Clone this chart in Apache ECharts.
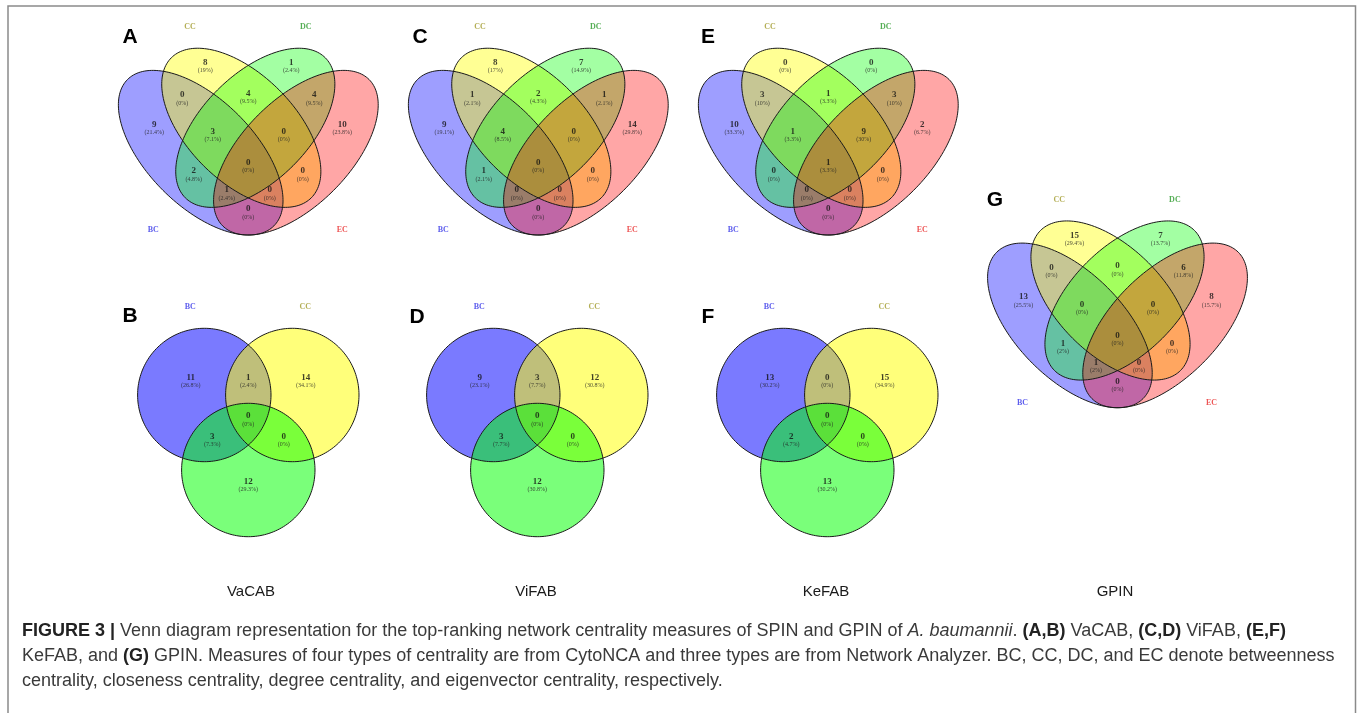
<!DOCTYPE html>
<html><head><meta charset="utf-8">
<script src="https://cdn.jsdelivr.net/npm/echarts@6/dist/echarts.min.js"></script>
<style>html,body{margin:0;padding:0;background:#fff}#c{width:1362px;height:713px}</style>
</head><body><div id="c"></div>
<script>
// ================= DATA =================
const sets4 = ['BC', 'CC', 'DC', 'EC'];
const sets3 = ['BC', 'CC', 'DC'];
// region order (4 sets)
const regions4 = ['BC', 'CC', 'DC', 'EC', 'BC∩CC', 'CC∩DC', 'DC∩EC', 'BC∩CC∩DC', 'CC∩DC∩EC',
  'BC∩CC∩DC∩EC', 'BC∩DC', 'CC∩EC', 'BC∩DC∩EC', 'BC∩CC∩EC', 'BC∩EC'];
// region order (3 sets)
const regions3 = ['BC', 'BC∩CC', 'CC', 'BC∩CC∩DC', 'BC∩DC', 'CC∩DC', 'DC'];

// (A) VaCAB - 4 sets
const countsA = [9, 8, 1, 10, 0, 4, 4, 3, 0, 0, 2, 0, 1, 0, 0];
const pctA = [21.4, 19, 2.4, 23.8, 0, 9.5, 9.5, 7.1, 0, 0, 4.8, 0, 2.4, 0, 0];
// (C) ViFAB - 4 sets
const countsC = [9, 8, 7, 14, 1, 2, 1, 4, 0, 0, 1, 0, 0, 0, 0];
const pctC = [19.1, 17, 14.9, 29.8, 2.1, 4.3, 2.1, 8.5, 0, 0, 2.1, 0, 0, 0, 0];
// (E) KeFAB - 4 sets
const countsE = [10, 0, 0, 2, 3, 1, 3, 1, 9, 1, 0, 0, 0, 0, 0];
const pctE = [33.3, 0, 0, 6.7, 10, 3.3, 10, 3.3, 30, 3.3, 0, 0, 0, 0, 0];
// (G) GPIN - 4 sets
const countsG = [13, 15, 7, 8, 0, 0, 6, 0, 0, 0, 1, 0, 1, 0, 0];
const pctG = [25.5, 29.4, 13.7, 15.7, 0, 0, 11.8, 0, 0, 0, 2, 0, 2, 0, 0];
// (B) VaCAB - 3 sets
const countsB = [11, 1, 14, 0, 3, 0, 12];
const pctB = [26.8, 2.4, 34.1, 0, 7.3, 0, 29.3];
// (D) ViFAB - 3 sets
const countsD = [9, 3, 12, 0, 3, 0, 12];
const pctD = [23.1, 7.7, 30.8, 0, 7.7, 0, 30.8];
// (F) KeFAB - 3 sets
const countsF = [13, 0, 15, 0, 2, 0, 13];
const pctF = [30.2, 0, 34.9, 0, 4.7, 0, 30.2];

const panelNames = ['VaCAB', 'ViFAB', 'KeFAB', 'GPIN'];

// ================= LAYOUT (geometry only, px-like units, y down) =================
// 4-set ellipses: [cx, cy, a, b, angleDeg]  (origin = panel centre x, top of diagram)
const ELL4 = [[-47.6, 104.4, 103.5, 53.3, 45], [-7, 79.5, 99, 53.5, 45], [7, 79.5, 99, 53.5, 135], [47.6, 104.4, 103.5, 53.3, 135]];
const LAB4 = [[-94, 76], [-43, 14.4], [43, 14.4], [94, 76], [-66, 46.7], [0, 45], [66, 46.7],
  [-35.5, 83.4], [35.5, 83.4], [0, 114.4], [-54.5, 122.7], [54.5, 122.7], [-21.5, 141.7], [21.5, 141.7], [0, 160.7]];
const CAT4 = [[-95, 181.7], [-58.3, -21], [57.4, -21], [94, 181.7]];
// 3-set circles (origin = centre of lower circle's x, upper circles' centre y)
const CIR3 = [[-44, 0, 66.7, 66.7, 0], [44, 0, 66.7, 66.7, 0], [0, 75, 66.7, 66.7, 0]];
const LAB3 = [[-57.6, -17.7], [0, -17.7], [57.5, -17.7], [0, 21], [-36, 41.7], [35.5, 41.7], [0, 86.7]];
const CAT3 = [[-58, -88.3], [57, -88.3], [0, 161.7]];

const FILL4 = ['rgba(0,0,255,0.38)', 'rgba(255,255,0,0.42)', 'rgba(0,255,0,0.36)', 'rgba(255,0,0,0.35)'];
const FILL3 = ['rgba(0,0,255,0.52)', 'rgba(255,255,0,0.52)', 'rgba(0,255,0,0.52)'];
const CATCOL = {BC: '#3434e8', CC: '#a09a2a', DC: '#2a9a2a', EC: '#e82a2a'};
const SERIF = '"Liberation Serif", "DejaVu Serif", serif';
const SANS = '"Liberation Sans", Arial, sans-serif';

const panels = [
  {type: 4, cx: 248.3, ytop: 48.3, counts: countsA, pct: pctA},
  {type: 4, cx: 538.3, ytop: 48.3, counts: countsC, pct: pctC},
  {type: 4, cx: 828.3, ytop: 48.3, counts: countsE, pct: pctE},
  {type: 4, cx: 1117.5, ytop: 221, counts: countsG, pct: pctG},
  {type: 3, cx: 248.3, cy: 395, counts: countsB, pct: pctB},
  {type: 3, cx: 537.3, cy: 395, counts: countsD, pct: pctD},
  {type: 3, cx: 827.3, cy: 395, counts: countsF, pct: pctF}
];

function ellipseRender(fills, stroke) {
  return function (params, api) {
    const cx = api.value(0), cy = api.value(1), a = api.value(2), b = api.value(3), r = api.value(4) * Math.PI / 180;
    const pts = [];
    const N = 180;
    for (let i = 0; i < N; i++) {
      const t = i / N * 2 * Math.PI;
      const ex = a * Math.cos(t), ey = b * Math.sin(t);
      pts.push(api.coord([cx + ex * Math.cos(r) - ey * Math.sin(r), cy + ex * Math.sin(r) + ey * Math.cos(r)]));
    }
    return {
      type: 'polygon', shape: {points: pts},
      style: stroke ? {fill: 'none', stroke: '#1a1a1a', lineWidth: 1} : {fill: fills[params.dataIndex], stroke: null}
    };
  };
}

const grid = [], xAxis = [], yAxis = [], series = [];
panels.forEach((p, i) => {
  if (p.type === 4) {
    grid.push({left: p.cx - 150, top: p.ytop - 40, width: 300, height: 300});
    xAxis.push({gridIndex: i, type: 'value', min: -150, max: 150, show: false});
    yAxis.push({gridIndex: i, type: 'value', min: -40, max: 260, inverse: true, show: false});
  } else {
    grid.push({left: p.cx - 150, top: p.cy - 150, width: 300, height: 300});
    xAxis.push({gridIndex: i, type: 'value', min: -150, max: 150, show: false});
    yAxis.push({gridIndex: i, type: 'value', min: -150, max: 150, inverse: true, show: false});
  }
  const shapes = p.type === 4 ? ELL4 : CIR3;
  const fills = p.type === 4 ? FILL4 : FILL3;
  const labPos = p.type === 4 ? LAB4 : LAB3;
  const catPos = p.type === 4 ? CAT4 : CAT3;
  const names = p.type === 4 ? sets4 : sets3;
  const regs = p.type === 4 ? regions4 : regions3;
  series.push({type: 'custom', xAxisIndex: i, yAxisIndex: i, silent: true, encode: {x: 0, y: 1},
    data: shapes, renderItem: ellipseRender(fills, false)});
  series.push({type: 'custom', xAxisIndex: i, yAxisIndex: i, silent: true, encode: {x: 0, y: 1},
    data: shapes, renderItem: ellipseRender(fills, true)});
  series.push({
    type: 'scatter', xAxisIndex: i, yAxisIndex: i, silent: true, symbolSize: 1,
    itemStyle: {color: 'rgba(0,0,0,0)'},
    data: labPos.map((q, k) => ({name: regs[k], value: [q[0], q[1], p.counts[k], p.pct[k]]})),
    label: {
      show: true, position: 'inside', offset: [0, 3.5],
      formatter: d => '{n|' + d.value[2] + '}\n{p|(' + d.value[3] + '%)}',
      rich: {
        n: {fontFamily: SERIF, fontWeight: 'bold', fontSize: 9, lineHeight: 9, color: '#111'},
        p: {fontFamily: SERIF, fontSize: 6, lineHeight: 7, color: '#222'}
      }
    }
  });
  series.push({
    type: 'scatter', xAxisIndex: i, yAxisIndex: i, silent: true, symbolSize: 1,
    itemStyle: {color: 'rgba(0,0,0,0)'},
    data: catPos.map((q, k) => ({name: names[k], value: [q[0], q[1]],
      label: {color: CATCOL[names[k]]}})),
    label: {show: true, position: 'inside', formatter: d => d.name,
      fontFamily: SERIF, fontWeight: 'bold', fontSize: 8}
  });
});

const letters = [['A', 130, 37], ['C', 420, 37], ['E', 708, 37], ['G', 995, 200], ['B', 130, 316], ['D', 417, 317], ['F', 708, 317]];
const nameX = [251, 536, 826, 1115];
const graphic = [
  {type: 'polyline', shape: {points: [[8, 713], [8, 6], [1355.5, 6], [1355.5, 713]]}, style: {stroke: '#8a8a8a', lineWidth: 1.5, fill: null}, silent: true}
];
letters.forEach(l => graphic.push({type: 'text', x: l[1], y: l[2], style: {text: l[0], fill: '#000', font: 'bold 21px ' + SANS, align: 'center', verticalAlign: 'middle'}}));
panelNames.forEach((n, i) => graphic.push({type: 'text', x: nameX[i], y: 592, style: {text: n, fill: '#1a1a1a', font: '15px ' + SANS, align: 'center', verticalAlign: 'middle'}}));

const capRich = {
  b: {fontWeight: 'bold', fontSize: 18, fontFamily: SANS, fill: '#222', color: '#222'},
  i: {fontStyle: 'italic', fontSize: 18, fontFamily: SANS, fill: '#3a3a3a', color: '#3a3a3a'}
};
const capLines = [
  '{b|FIGURE 3 |} Venn diagram representation for the top-ranking network centrality measures of SPIN and GPIN of {i|A. baumannii}. {b|(A,B)} VaCAB, {b|(C,D)} ViFAB, {b|(E,F)}',
  'KeFAB, and {b|(G)} GPIN. Measures of four types of centrality are from CytoNCA and three types are from Network Analyzer. BC, CC, DC, and EC denote betweenness',
  'centrality, closeness centrality, degree centrality, and eigenvector centrality, respectively.'
];
capLines.forEach((t, i) => graphic.push({type: 'text', x: 22, y: 631 + 25 * i,
  style: {text: t, rich: capRich, fill: '#3a3a3a', fontSize: 18, fontFamily: SANS, verticalAlign: 'middle', align: 'left'}}));

const chart = echarts.init(document.getElementById('c'), null, {renderer: 'canvas'});
chart.setOption({animation: false, backgroundColor: '#fff', grid, xAxis, yAxis, series, graphic});
</script></body></html>
